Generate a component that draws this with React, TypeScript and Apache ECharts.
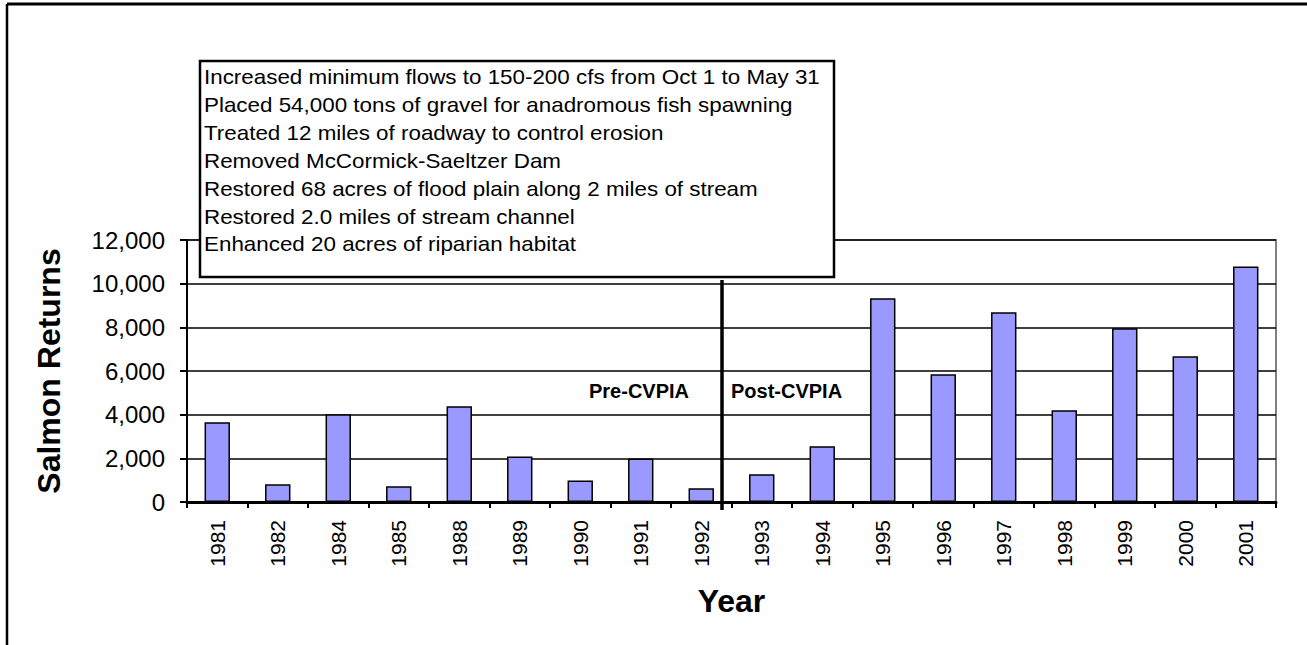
import React, { useEffect, useRef } from "react";
import * as echarts from "echarts";

const years = ["1981", "1982", "1984", "1985", "1988", "1989", "1990", "1991", "1992", "1993", "1994", "1995", "1996", "1997", "1998", "1999", "2000", "2001"];
const salmonReturns = [3650, 810, 4020, 720, 4380, 2080, 990, 1990, 630, 1270, 2550, 9330, 5850, 8690, 4200, 7960, 6670, 10790];
const yTicks = { min: 0, max: 12000, interval: 2000 };
const notes = [
  "Increased minimum flows to 150-200 cfs from Oct 1 to May 31",
  "Placed 54,000 tons of gravel for anadromous fish spawning",
  "Treated 12 miles of roadway to control erosion",
  "Removed McCormick-Saeltzer Dam",
  "Restored 68 acres of flood plain along 2 miles of stream",
  "Restored 2.0 miles of stream channel",
  "Enhanced 20 acres of riparian habitat",
];
const periodLabels = ["Pre-CVPIA", "Post-CVPIA"];

const FONT = 'Arial, "Liberation Sans", Helvetica, sans-serif';

export default function App() {
  const ref = useRef<HTMLDivElement>(null);
  useEffect(() => {
    document.body.style.margin = "0";
    const chart = echarts.init(ref.current!, null, { renderer: "svg" });
    const noteTexts = notes.map((t, i) => ({
      type: "text",
      x: 204,
      y: 77 + i * 27.9,
      scaleX: 1.12,
      style: { text: t, font: `20px ${FONT}`, fill: "#000", verticalAlign: "middle" },
      z: 101,
    }));
    chart.setOption({
      animation: false,
      backgroundColor: "#fff",
      grid: { left: 187, right: 31, top: 240, bottom: 143, show: true, borderColor: "#808080", borderWidth: 2, backgroundColor: "transparent" },
      xAxis: {
        type: "category",
        data: years,
        name: "Year",
        nameLocation: "middle",
        nameGap: 83,
        nameTextStyle: { fontFamily: FONT, fontWeight: "bold", fontSize: 32, color: "#000" },
        axisLine: { lineStyle: { color: "#000", width: 3 } },
        axisTick: { show: true, length: 6, lineStyle: { color: "#000", width: 2 }, alignWithLabel: false },
        axisLabel: { rotate: 90, fontFamily: FONT, fontSize: 21, color: "#000", margin: 18, interval: 0 },
      },
      yAxis: {
        type: "value",
        min: yTicks.min,
        max: yTicks.max,
        interval: yTicks.interval,
        name: "Salmon Returns",
        nameLocation: "middle",
        nameRotate: 90,
        nameGap: 122,
        nameTextStyle: { fontFamily: FONT, fontWeight: "bold", fontSize: 32, color: "#000" },
        axisLine: { show: true, lineStyle: { color: "#000", width: 2 } },
        axisTick: { show: true, length: 7, lineStyle: { color: "#000", width: 2 } },
        axisLabel: {
          fontFamily: FONT,
          fontSize: 24,
          color: "#000",
          margin: 22,
          formatter: (v: number) => v.toLocaleString("en-US"),
        },
        splitLine: { show: true, lineStyle: { color: "#000", width: 1.5 } },
      },
      series: [
        {
          type: "bar",
          data: salmonReturns,
          barWidth: "42%",
          itemStyle: { color: "#9999FF", borderColor: "#000", borderWidth: 1.5 },
        },
      ],
      graphic: [
        { type: "line", shape: { x1: 7, y1: 4, x2: 1307, y2: 4 }, style: { stroke: "#000", lineWidth: 3 }, z: 100 },
        { type: "line", shape: { x1: 7, y1: 4, x2: 7, y2: 645 }, style: { stroke: "#000", lineWidth: 2.5 }, z: 100 },
        { type: "line", shape: { x1: 722, y1: 280, x2: 722, y2: 510 }, style: { stroke: "#000", lineWidth: 3.5 }, z: 100 },
        {
          type: "text",
          x: 589,
          y: 391,
          style: { text: periodLabels[0], font: `bold 20px ${FONT}`, fill: "#000", verticalAlign: "middle" },
          z: 100,
        },
        {
          type: "text",
          x: 731,
          y: 391,
          style: { text: periodLabels[1], font: `bold 20px ${FONT}`, fill: "#000", verticalAlign: "middle" },
          z: 100,
        },
        {
          type: "rect",
          shape: { x: 200, y: 61, width: 634, height: 216 },
          style: { fill: "#fff", stroke: "#000", lineWidth: 2.5 },
          z: 100,
        },
        ...noteTexts,
      ],
    });
    return () => chart.dispose();
  }, []);
  return <div ref={ref} style={{ width: 1307, height: 645 }} />;
}
